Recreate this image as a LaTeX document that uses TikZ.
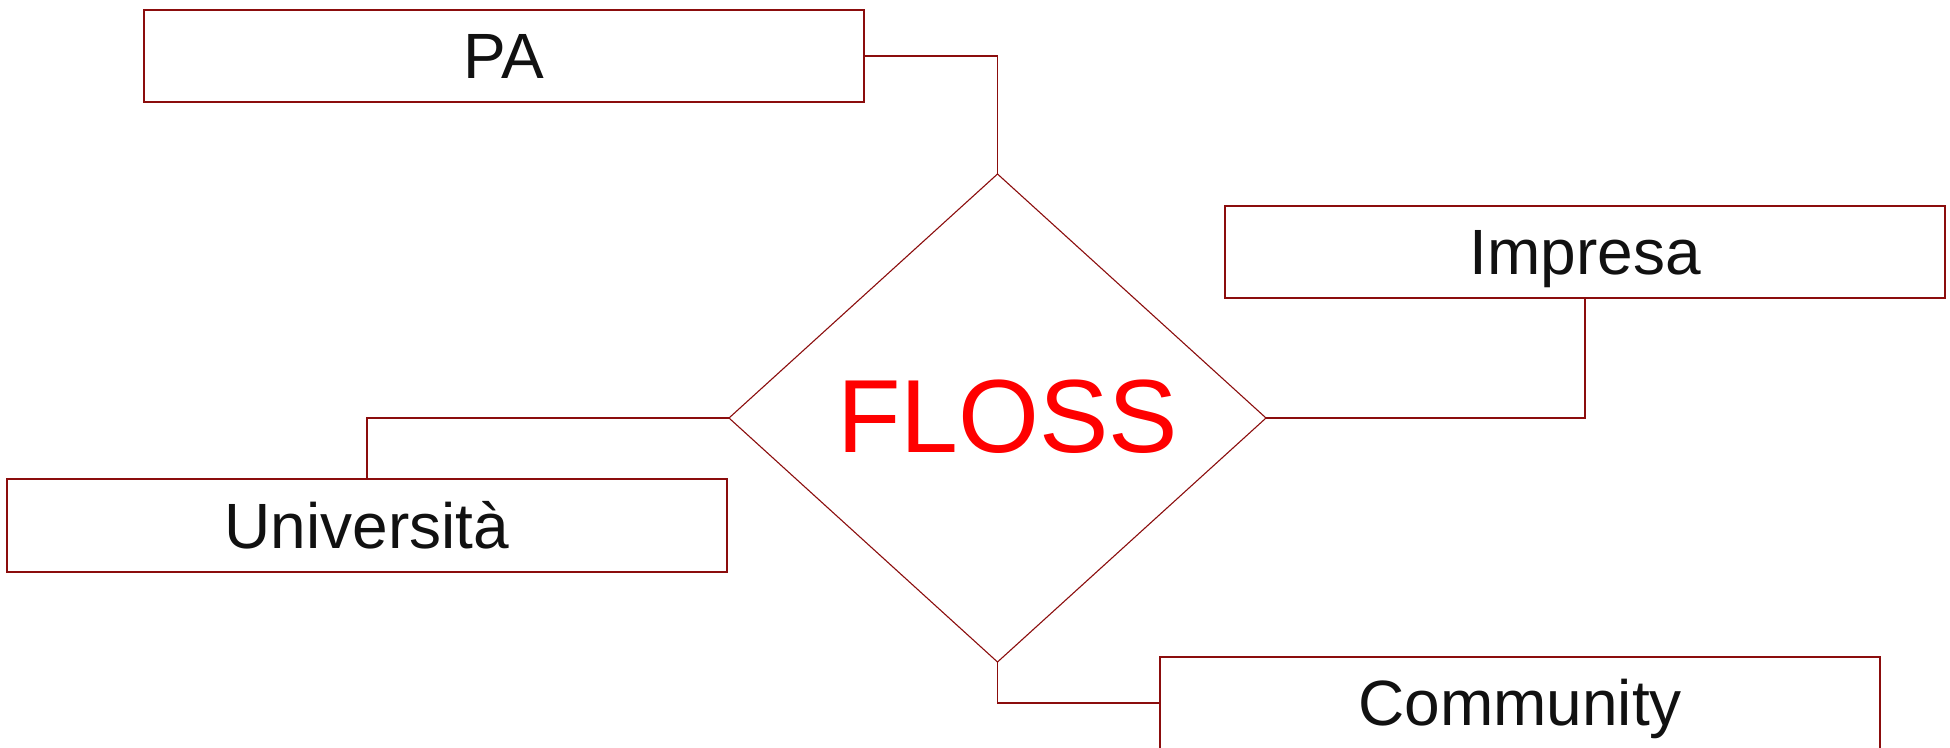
\documentclass[tikz,border=0pt]{standalone}
\usepackage{fontspec}
\setmainfont{Liberation Sans}
\usetikzlibrary{shapes.geometric}
\definecolor{linecol}{HTML}{8B0D0D}
\definecolor{txtcol}{HTML}{111111}
\definecolor{flosscol}{HTML}{FF0000}
\begin{document}
\begin{tikzpicture}[x=1pt,y=-1pt,
  actor/.style={draw=linecol,line width=1.1pt,fill=white,rectangle,minimum width=720pt,minimum height=92pt,
    inner sep=0pt,outer sep=0pt,text=txtcol,font=\fontsize{64pt}{70pt}\selectfont,text height=45.8pt,text depth=0pt},
  hub/.style={draw=linecol,line width=1.1pt,diamond,minimum width=537pt,minimum height=488pt,inner sep=0pt,outer sep=0pt},
  link/.style={draw=linecol,line width=1.1pt}]
\useasboundingbox (0,0) rectangle (1950,747);
\node[hub] (d) at (997.5,418) {};
\node[text=flosscol,font=\fontsize{104pt}{110pt}\selectfont,text height=74.5pt,text depth=0pt,inner sep=0pt] (floss) at (1007.5,415.5) {FLOSS};
\node[actor] (pa) at (504,56) {PA};
\node[actor] (imp) at (1585,252) {Impresa};
\node[actor,minimum height=93pt] (uni) at (367,525.5) {Università};
\node[actor] (com) at (1520,703) {Community};
\draw[link] (pa.east) -| (d.north);
\draw[link] (d.east) -| (imp.south);
\draw[link] (d.west) -| (uni.north);
\draw[link] (d.south) |- (com.west);
\end{tikzpicture}
\end{document}
